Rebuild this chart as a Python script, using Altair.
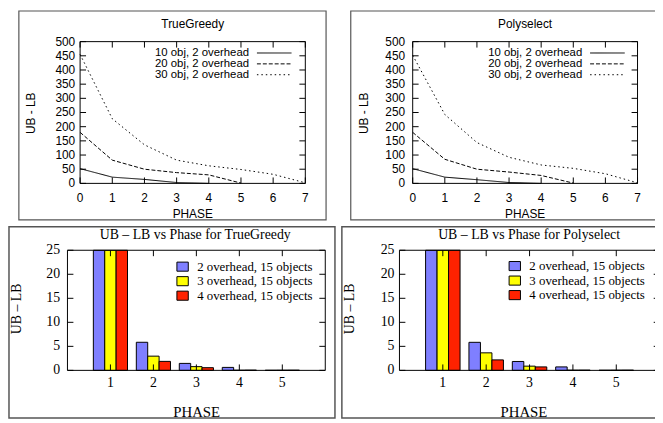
import altair as alt
import pandas as pd

# ---------------- data ----------------
top_series = ["10 obj, 2 overhead", "20 obj, 2 overhead", "30 obj, 2 overhead"]
tg_obj10 = [52, 22, 14, 3, 0]
tg_obj20 = [180, 82, 50, 38, 30, 1]
tg_obj30 = [455, 228, 136, 82, 62, 49, 32, 2]
ps_obj10 = [52, 22, 13, 3, 0]
ps_obj20 = [180, 85, 50, 40, 28, 1]
ps_obj30 = [452, 243, 144, 92, 65, 53, 34, 2]
top_xticks = [0, 1, 2, 3, 4, 5, 6, 7]
top_yticks = [0, 50, 100, 150, 200, 250, 300, 350, 400, 450, 500]

bar_series = ["2 overhead, 15 objects", "3 overhead, 15 objects", "4 overhead, 15 objects"]
bar_phases = [1, 2, 3, 4, 5]
tg_over2 = [40, 5.85, 1.45, 0.62, 0.02]
tg_over3 = [40, 2.96, 0.78, 0.03, 0.03]
tg_over4 = [40, 1.87, 0.56, 0.05, 0.04]
ps_over2 = [40, 5.84, 1.85, 0.72, 0.03]
ps_over3 = [40, 3.65, 0.88, 0.04, 0.04]
ps_over4 = [40, 2.18, 0.72, 0.05, 0.05]
bar_xticks = [1, 2, 3, 4, 5]
bar_yticks = [0, 5, 10, 15, 20, 25]

# ---------------- styles ----------------
SANS = "Liberation Sans"
SERIF = "Liberation Serif"
DASHES = [[1, 0], [4, 2], [1.5, 3]]
bar_colors = ["#7f7fff", "#ffff00", "#ff2200"]
BAR_W = 0.265
TICK = 6


def one(text):
    return pd.DataFrame({"t": [text]})


def label(text, x, y, font, size, align="center", angle=0):
    kw = dict(font=font, fontSize=size, align=align, baseline="middle", color="black")
    if angle:
        kw["angle"] = angle
    return alt.Chart(one(text)).mark_text(**kw).encode(
        text="t:N", x=alt.value(x), y=alt.value(y))


def box(x0, x1, y0, y1, color, width):
    return alt.Chart(one("")).mark_rect(fillOpacity=0, stroke=color, strokeWidth=width).encode(
        x=alt.value(x0), x2=alt.value(x1), y=alt.value(y0), y2=alt.value(y1))


def yticks(vals, ys, x0, x1):
    return alt.Chart(pd.DataFrame({"v": vals})).mark_rule(color="black", strokeWidth=1).encode(
        y=alt.Y("v:Q", scale=ys, axis=None), x=alt.value(x0), x2=alt.value(x1))


def xticks(vals, xs, y0, y1):
    return alt.Chart(pd.DataFrame({"v": vals})).mark_rule(color="black", strokeWidth=1).encode(
        x=alt.X("v:Q", scale=xs, axis=None), y=alt.value(y0), y2=alt.value(y1))


def ylabels(vals, ys, x, font, size):
    return alt.Chart(pd.DataFrame({"v": vals})).mark_text(
        font=font, fontSize=size, align="right", baseline="middle", color="black").encode(
        y=alt.Y("v:Q", scale=ys, axis=None), x=alt.value(x), text=alt.Text("v:Q", format="d"))


def xlabels(vals, xs, y, font, size):
    return alt.Chart(pd.DataFrame({"v": vals})).mark_text(
        font=font, fontSize=size, align="center", baseline="middle", color="black").encode(
        x=alt.X("v:Q", scale=xs, axis=None), y=alt.value(y), text=alt.Text("v:Q", format="d"))


def top_panel(g, title, series_vals):
    px0, px1, pb, pt = g["px0"], g["px1"], 175, 31.5
    xs = alt.Scale(domain=[0, 7], range=[px0, px1], nice=False, zero=False)
    ys = alt.Scale(domain=[0, 500], range=[pb, pt], nice=False, zero=False)
    rows = []
    for name, vals in zip(top_series, series_vals):
        for p, v in enumerate(vals):
            rows.append({"series": name, "phase": p, "value": v})
    df = pd.DataFrame(rows)
    layers = [
        box(g["bx0"], g["bx1"], 0.5, 212, "#555555", 1.2),
        box(px0, px1, pt, pb, "black", 1),
    ]
    layers.append(alt.Chart(df).mark_line(color="black", strokeWidth=1).encode(
        x=alt.X("phase:Q", scale=xs, axis=None),
        y=alt.Y("value:Q", scale=ys, axis=None),
        strokeDash=alt.StrokeDash("series:N", scale=alt.Scale(domain=top_series, range=DASHES),
                                  legend=None),
    ))
    layers += [
        yticks(top_yticks, ys, px0, px0 + TICK),
        yticks(top_yticks, ys, px1 - TICK, px1),
        xticks(top_xticks, xs, pb, pb - TICK),
        xticks(top_xticks, xs, pt, pt + TICK),
        ylabels(top_yticks, ys, g["ylab"], SANS, 12),
        xlabels(top_xticks, xs, 190, SANS, 12),
        label(title, g["tx"], 13.7, SANS, 12),
        label("PHASE", g["tx"], 206, SANS, 12),
        label("UB - LB", g["yt"], 104, SANS, 12, angle=270),
    ]
    for i, name in enumerate(top_series):
        ry = 43 + 11 * i
        layers.append(label(name, g["lx"], ry, SANS, 11.5, align="right"))
        layers.append(alt.Chart(one(name)).mark_rule(
            color="black", strokeWidth=1, strokeDash=DASHES[i]).encode(
            x=alt.value(g["lx"] + 8), x2=alt.value(g["lx"] + 43), y=alt.value(ry)))
    return layers


def bar_panel(g, title, series_vals):
    px0 = g["px0"]
    px1 = px0 + 6 * g["step"]
    pb, pt = 364.3, 242.7
    xs = alt.Scale(domain=[0, 6], range=[px0, px1], nice=False, zero=False)
    ys = alt.Scale(domain=[0, 25], range=[pb, pt], nice=False, zero=False, clamp=True)
    rows = []
    for k, (name, vals) in enumerate(zip(bar_series, series_vals)):
        for p, v in zip(bar_phases, vals):
            rows.append({"series": name, "k": k, "phase": p, "value": v, "col": bar_colors[k]})
    df = pd.DataFrame(rows)
    layers = [
        box(g["bx0"], g["bx1"], 219, 412.5, "#555555", 1.5),
    ]
    layers.append(alt.Chart(df).transform_calculate(
        lo=f"datum.phase + (datum.k - 1.5) * {BAR_W}",
        hi=f"datum.phase + (datum.k - 0.5) * {BAR_W}",
        base="0",
    ).mark_rect(stroke="black", strokeWidth=1).encode(
        x=alt.X("lo:Q", scale=xs, axis=None),
        x2="hi:Q",
        y=alt.Y("value:Q", scale=ys, axis=None),
        y2="base:Q",
        fill=alt.Fill("col:N", scale=None),
    ))
    layers += [
        box(px0, px1, pt, pb, "black", 1),
        yticks(bar_yticks, ys, px0, px0 + TICK),
        yticks(bar_yticks, ys, px1 - TICK, px1),
        xticks(bar_xticks, xs, pb, pb - TICK),
        xticks(bar_xticks, xs, pt, pt + TICK),
        ylabels(bar_yticks, ys, g["ylab"], SERIF, 14),
        xlabels(bar_xticks, xs, 377.5, SERIF, 14),
        label(title, g["tx"], 227, SERIF, 14),
        label("PHASE", g["xt"], 406, SERIF, 15),
        label("UB \u2013 LB", g["yt"], 302, SERIF, 14, angle=270),
    ]
    for i, name in enumerate(bar_series):
        ry = g["ly"] + 14.7 * i
        layers.append(alt.Chart(one(name)).mark_rect(
            fill=bar_colors[i], stroke="black", strokeWidth=1).encode(
            x=alt.value(g["sx"]), x2=alt.value(g["sx"] + 11.5),
            y=alt.value(ry - 4.6), y2=alt.value(ry + 4.6)))
        layers.append(label(name, g["sx"] + 20.5, ry, SERIF, 13, align="left"))
    return layers


layers = []
layers += top_panel(dict(bx0=11, bx1=322, px0=73, px1=301, ylab=68, tx=187, yt=23, lx=244),
                    "TrueGreedy", [tg_obj10, tg_obj20, tg_obj30])
layers += top_panel(dict(bx0=347, bx1=662, px0=409.7, px1=637.3, ylab=402, tx=523.5, yt=360.7, lx=581.3),
                    "Polyselect", [ps_obj10, ps_obj20, ps_obj30])
layers += bar_panel(dict(bx0=1, bx1=331, px0=60.2, step=43.5, ylab=52.7, tx=189.5, xt=191, yt=9,
                         sx=171, ly=259.3),
                    "UB \u2013 LB vs Phase for TrueGreedy", [tg_over2, tg_over3, tg_over4])
layers += bar_panel(dict(bx0=338, bx1=662, px0=396.3, step=43.9, ylab=391.3, tx=527.5, xt=522.3, yt=346.3,
                         sx=507.3, ly=258.7),
                    "UB \u2013 LB vs Phase for Polyselect", [ps_over2, ps_over3, ps_over4])

chart = alt.layer(*layers).resolve_scale(x="independent", y="independent").properties(
    width=655, height=413, padding=0, autosize=alt.AutoSizeParams(type="none")
).configure_view(stroke=None)

chart.save("out.html", embed_options={"renderer": "svg", "actions": False})
